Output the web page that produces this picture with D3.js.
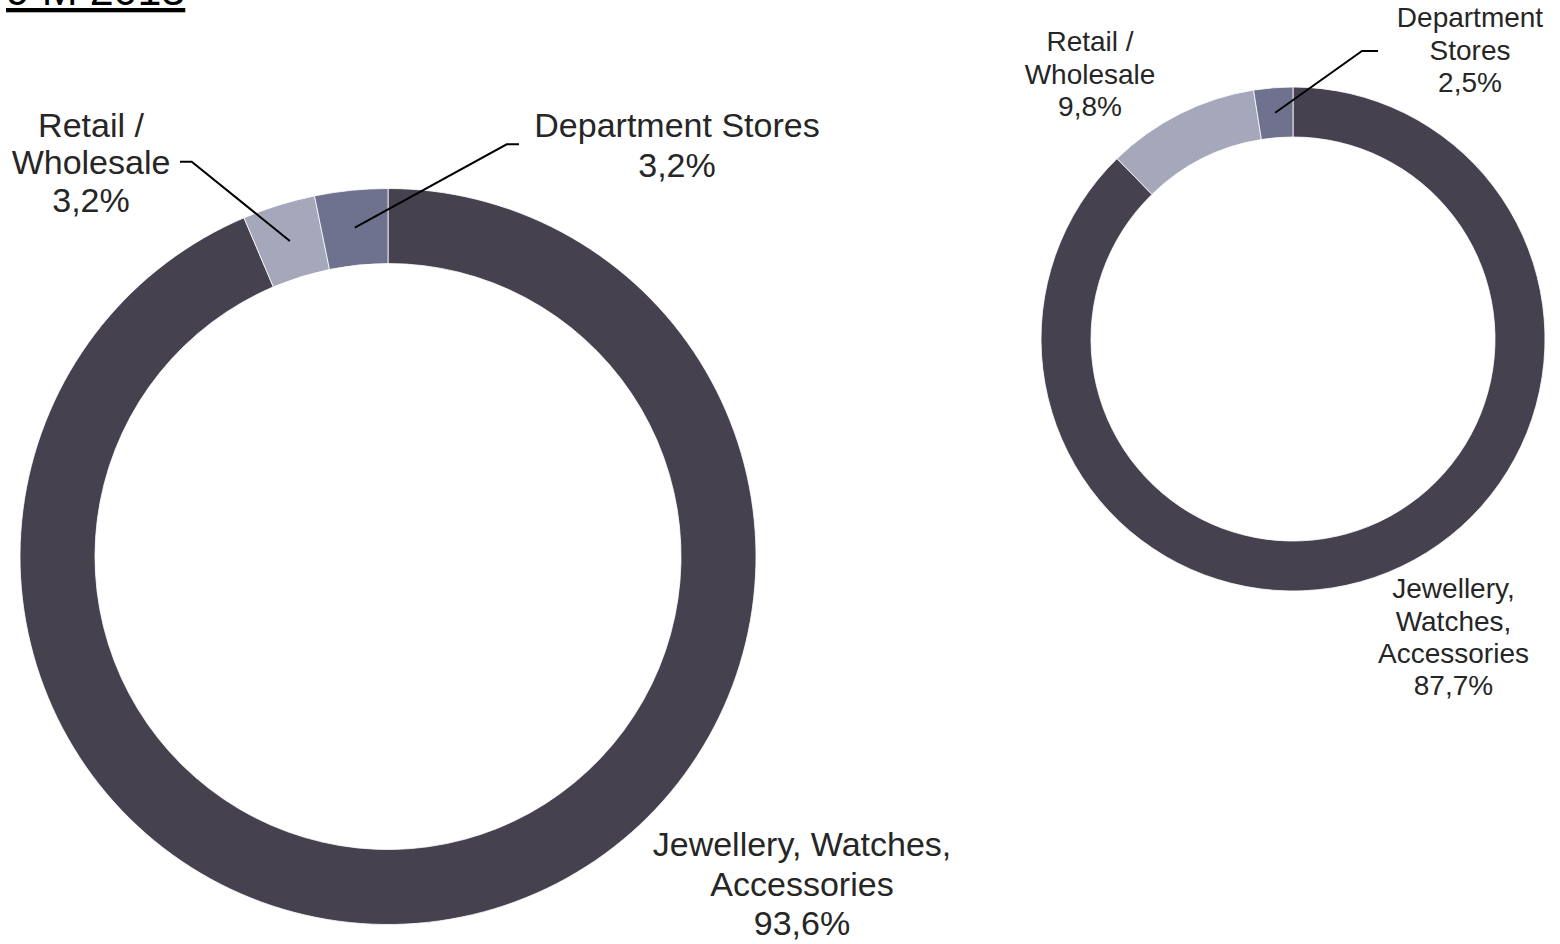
<!DOCTYPE html>
<html>
<head>
<meta charset="utf-8">
<script src="https://cdn.jsdelivr.net/npm/d3@7"></script>
<style>
  html, body { margin: 0; padding: 0; background: #fff; }
  svg { display: block; font-family: "Liberation Sans", Arial, sans-serif; }
</style>
</head>
<body>
<svg id="chart" width="1560" height="944"></svg>
<script>
// Segment split (share of sales, %), clockwise from 12 o'clock
const categories = ["Jewellery, Watches, Accessories", "Retail / Wholesale", "Department Stores"];
const share9M2013 = [93.6, 3.2, 3.2];
const sharePrior = [87.7, 9.8, 2.5];
const titleText = "9 M 2013";

// Label lines per category (value line is appended from the data)
const labelLinesLarge = [["Jewellery, Watches,", "Accessories"], ["Retail /", "Wholesale"], ["Department Stores"]];
const labelLinesSmall = [["Jewellery,", "Watches,", "Accessories"], ["Retail /", "Wholesale"], ["Department", "Stores"]];

const colors = d3.scaleOrdinal().domain(categories).range(["#46414F", "#A5A7BA", "#6E728E"]);
const fmt = v => d3.format(".1f")(v).replace(".", ",") + "%";

const svg = d3.select("#chart");

// Title (top edge runs off the canvas)
svg.append("text")
  .attr("x", 6).attr("y", 5)
  .attr("font-size", 43)
  .attr("fill", "#000")
  .style("text-decoration", "underline")
  .text(titleText);

function donut(values, cfg) {
  const pie = d3.pie().sort(null).value(d => d)(values);
  const arc = d3.arc().innerRadius(cfg.inner).outerRadius(cfg.outer);
  const g = svg.append("g").attr("transform", `translate(${cfg.cx},${cfg.cy})`);

  g.selectAll("path.slice")
    .data(pie)
    .join("path")
    .attr("class", "slice")
    .attr("d", arc)
    .attr("fill", (d, i) => colors(categories[i]))
    .attr("stroke", "#fff")
    .attr("stroke-width", 0.8);

  // Leader lines from slice centroid to the label elbow
  pie.forEach((d, i) => {
    const lab = cfg.labels[i];
    if (!lab.leader) return;
    const [x0, y0] = arc.centroid(d);
    const pts = [[x0 + cfg.cx, y0 + cfg.cy], ...lab.leader];
    svg.append("path")
      .attr("d", d3.line()(pts))
      .attr("fill", "none")
      .attr("stroke", "#000")
      .attr("stroke-width", 2);
  });

  // Category labels
  pie.forEach((d, i) => {
    const lab = cfg.labels[i];
    const lines = cfg.lines[i].concat([fmt(values[i])]);
    const t = svg.append("text")
      .attr("font-size", cfg.fontSize)
      .attr("fill", "#262626")
      .attr("text-anchor", "middle");
    lines.forEach((s, k) => {
      t.append("tspan").attr("x", lab.x).attr("y", lab.y + k * lab.lh).text(s);
    });
  });
}

donut(share9M2013, {
  cx: 388, cy: 556.5, outer: 368, inner: 293, fontSize: 34,
  lines: labelLinesLarge,
  labels: [
    { x: 802, y: 856, lh: 39.5 },
    { x: 91, y: 136.7, lh: 37.5, leader: [[191.7, 161.7], [180, 161.7]] },
    { x: 677, y: 137.3, lh: 40, leader: [[506.7, 144.3], [519, 144.3]] }
  ]
});

donut(sharePrior, {
  cx: 1293, cy: 339, outer: 252, inner: 202, fontSize: 28,
  lines: labelLinesSmall,
  labels: [
    { x: 1453.5, y: 598.3, lh: 32.2 },
    { x: 1090, y: 51, lh: 32.5 },
    { x: 1470, y: 27.3, lh: 32.2, leader: [[1362, 51], [1378, 51]] }
  ]
});
</script>
</body>
</html>
